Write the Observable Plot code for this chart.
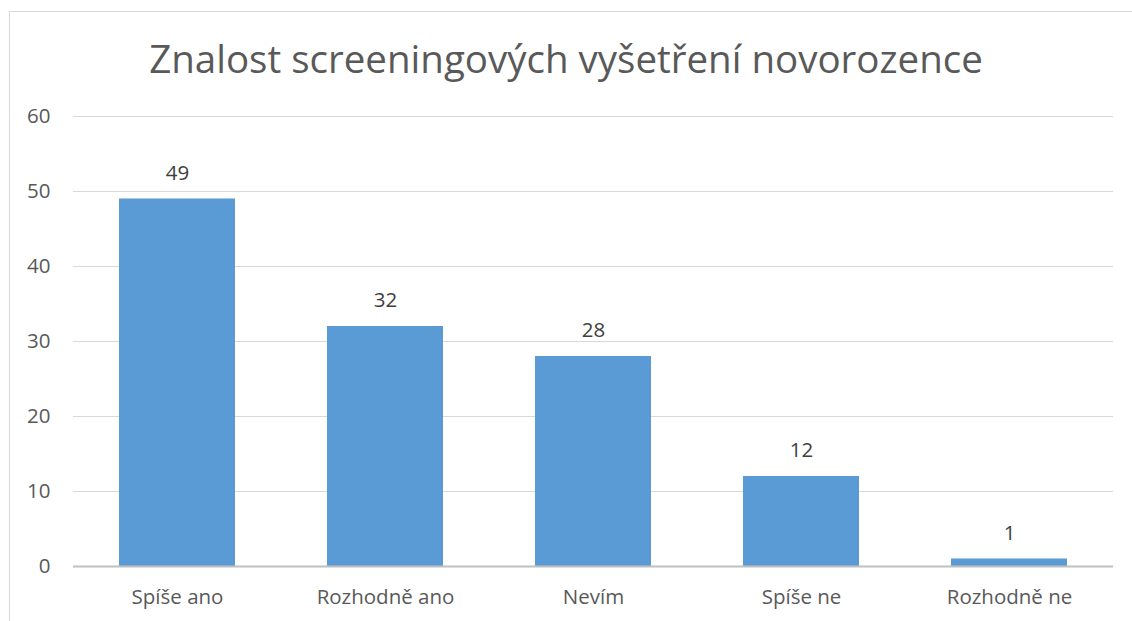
<!DOCTYPE html>
<html><head><meta charset="utf-8">
<script src="https://cdn.jsdelivr.net/npm/d3@7"></script>
<script src="https://cdn.jsdelivr.net/npm/@observablehq/plot@0.6"></script>
<style>
html,body{margin:0;padding:0;background:#fff;overflow:hidden;width:1132px;height:621px;}
#frame{position:absolute;left:9px;top:11px;width:1200px;height:700px;border-left:1px solid #d9d9d9;border-top:1px solid #d9d9d9;pointer-events:none;}
#title{position:absolute;left:0;top:0;width:1132px;height:96px;text-align:center;font-family:"Open Sans",sans-serif;font-size:38.5px;color:#595959;line-height:96px;padding-top:10px;box-sizing:border-box;}
#chart{position:absolute;left:0;top:96px;}
#chart svg text{font-size:20.5px !important;}
</style></head>
<body>
<div id="frame"></div>
<div id="title">Znalost screeningových vyšetření novorozence</div>
<div id="chart"></div>
<script>
const categories = ["Spíše ano", "Rozhodně ano", "Nevím", "Spíše ne", "Rozhodně ne"];
const values = [49, 32, 28, 12, 1];
const yTicks = [0, 10, 20, 30, 40, 50, 60];

const data = categories.map((c, i) => ({category: c, value: values[i]}));
const font = '"Open Sans", sans-serif';

const chart = Plot.plot({
  width: 1132,
  height: 525,
  marginTop: 20,
  marginBottom: 55,
  marginLeft: 73,
  marginRight: 19,
  style: {fontFamily: font, fontSize: "20.5px", color: "#595959", background: "transparent"},
  x: {domain: categories, paddingInner: 0.44, paddingOuter: 0.22, label: null},
  y: {domain: [0, 60], ticks: yTicks, label: null},
  marks: [
    Plot.gridY(yTicks.filter(d => d > 0), {stroke: "#d9d9d9", strokeOpacity: 1, strokeWidth: 1}),
    Plot.barY(data, {x: "category", y: "value", fill: "#5B9BD5"}),
    Plot.ruleY([0], {stroke: "#bfbfbf", strokeWidth: 2}),
    Plot.axisY({ticks: yTicks, tickSize: 0, tickPadding: 23, fontSize: 20.5, fill: "#595959", label: null}),
    Plot.axisX({tickSize: 0, tickPadding: 23, fontSize: 20.5, fill: "#595959", label: null}),
    Plot.text(data, {x: "category", y: "value", text: d => String(d.value), dy: -26, fontSize: 20.5, fill: "#404040", lineAnchor: "middle"})
  ]
});
document.getElementById("chart").appendChild(chart);
</script>
</body></html>
